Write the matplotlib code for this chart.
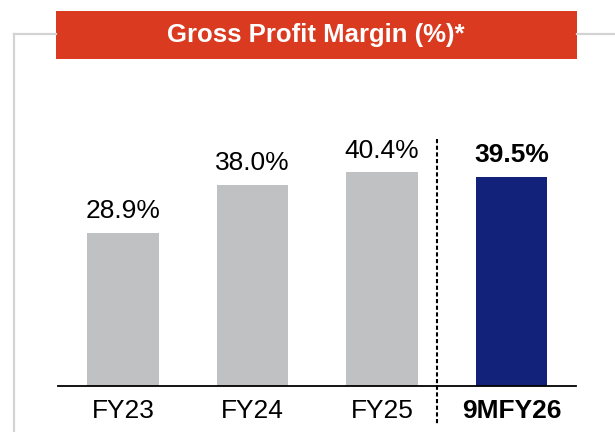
import matplotlib.pyplot as plt
from matplotlib.lines import Line2D
from matplotlib.patches import Rectangle

periods = ["FY23", "FY24", "FY25", "9MFY26"]
margins = [28.9, 38.0, 40.4, 39.5]
labels = ["28.9%", "38.0%", "40.4%", "39.5%"]
bar_colors = ["#c0c1c3", "#c0c1c3", "#c0c1c3", "#12227a"]
title = "Gross Profit Margin (%)*"

plt.rcParams['font.family'] = ['Liberation Sans', 'DejaVu Sans']

W, H = 615, 432
fig = plt.figure(figsize=(W / 100, H / 100), dpi=100)

# axes placed in pixel terms: baseline at y=386, bars spaced ~129.5px
ax = fig.add_axes([58.25 / W, 46 / H, 518 / W, 326 / H])
x = range(len(periods))
ax.bar(x, margins, width=0.555, color=bar_colors, zorder=2)
ax.set_xlim(-0.5, 3.5)
ax.set_ylim(0, 326 / 5.29)

for i, (v, lab) in enumerate(zip(margins, labels)):
    bold = i == len(margins) - 1
    ax.annotate(lab, (i, v), xytext=(0, 7), textcoords="offset points",
                ha="center", va="bottom", fontsize=19,
                fontweight="bold" if bold else "normal", color="black")

ax.set_xticks(list(x))
ax.set_xticklabels(periods, fontsize=19)
ax.get_xticklabels()[-1].set_fontweight("bold")
ax.tick_params(axis="x", length=0, pad=9)
ax.set_yticks([])
for s in ["top", "right", "left"]:
    ax.spines[s].set_visible(False)
ax.spines["bottom"].set_linewidth(1.3)

# dashed separator
ax.plot([2.425, 2.425], [46.7, -7.4], color="black", lw=1.5,
        linestyle=(0, (2.0, 1.2)), clip_on=False, zorder=3)

# frame lines and title banner
gray = "#d3d3d3"
fig.add_artist(Line2D([14 / W, 56 / W], [1 - 34 / H, 1 - 34 / H], color=gray, lw=1.6))
fig.add_artist(Line2D([577 / W, 1], [1 - 34 / H, 1 - 34 / H], color=gray, lw=1.6))
fig.add_artist(Line2D([14 / W, 14 / W], [1 - 34 / H, 0], color=gray, lw=1.6))
fig.add_artist(Rectangle((56 / W, 1 - 59 / H), 521 / W, 48 / H,
                         facecolor="#d93a20", edgecolor="none",
                         transform=fig.transFigure))
fig.text(316 / W, 1 - 35 / H, title, color="white", fontsize=18.5,
         fontweight="bold", ha="center", va="center")

fig.savefig("out.png", dpi=100)
